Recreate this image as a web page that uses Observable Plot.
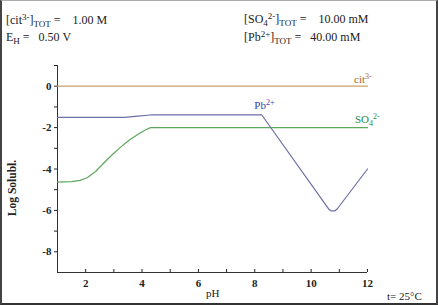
<!DOCTYPE html>
<html>
<head>
<meta charset="utf-8">
<script src="https://cdn.jsdelivr.net/npm/d3@7"></script>
<script src="https://cdn.jsdelivr.net/npm/@observablehq/plot@0.6"></script>
<style>
  body { margin: 0; background: #fff; }
  #wrap { position: relative; width: 438px; height: 305px; overflow: hidden; font-family: "Liberation Serif", "DejaVu Serif", serif; color: #222; }
  #wrap svg { position: absolute; left: 0; top: 0; }
  #wrap svg text { font-family: "Liberation Serif", serif; }
  .t { position: absolute; font-size: 12px; line-height: 13px; white-space: pre; }
  .t sub, .t sup { font-size: 9px; line-height: 0; }
  .t sub { vertical-align: -3px; }
  .t sup { vertical-align: 4px; }
  .s { font-size: 11px; }
  .s sub, .s sup { font-size: 8px; }
  #frame { position: absolute; left: 0; top: 0; width: 438px; height: 305px; box-sizing: border-box;
    border-left: 2px solid #444; border-top: 1px solid #aaa; border-right: 2px solid #444; border-bottom: 2px solid #333; pointer-events: none; }
</style>
</head>
<body>
<div id="wrap"></div>
<script>
// ---- data ----
const xTicks = [2, 3, 4, 5, 6, 7, 8, 9, 10, 11, 12];
const yTicks = [1, 0, -1, -2, -3, -4, -5, -6, -7, -8];

const citPH = [1, 12];
const citLog = [0, 0];

const pbPH  = [1, 3.4, 3.85, 4.3, 8.25, 10.62, 10.7, 10.85, 10.93, 12];
const pbLog = [-1.51, -1.51, -1.45, -1.39, -1.39, -5.93, -6.02, -6.02, -5.92, -4.0];

const so4PH  = [1, 1.5, 1.8, 2.05, 2.35, 2.6, 2.95, 3.25, 3.55, 3.86, 4.1, 4.3, 12];
const so4Log = [-4.63, -4.61, -4.55, -4.42, -4.12, -3.77, -3.3, -2.93, -2.6, -2.32, -2.13, -2.0, -2.0];

const toRows = (xs, ys) => xs.map((x, i) => ({x, y: ys[i]}));
const cit = toRows(citPH, citLog);
const pb = toRows(pbPH, pbLog);
const so4 = toRows(so4PH, so4Log);

const plot = Plot.plot({
  width: 438, height: 305,
  marginLeft: 57, marginRight: 71, marginTop: 65, marginBottom: 33,
  style: { fontFamily: "'Liberation Serif', serif", fontSize: "11px", background: "transparent", color: "#222" },
  x: { domain: [1, 12] },
  y: { domain: [-9, 1] },
  marks: [
    Plot.axisX({ ticks: xTicks, tickSize: -3, tickPadding: 10, tickFormat: d => d % 2 === 0 ? String(d) : "", label: null, fontWeight: "bold" }),
    Plot.axisY({ ticks: yTicks, tickSize: 3, tickPadding: 3, tickFormat: d => d % 2 === 0 ? String(d) : "", label: null, fontWeight: "bold" }),
    Plot.ruleX([1], { stroke: "#333" }),
    Plot.ruleY([-9], { stroke: "#333" }),
    Plot.line(cit, { x: "x", y: "y", stroke: "#c9a16c", strokeWidth: 1.2 }),
    Plot.line(so4, { x: "x", y: "y", stroke: "#5ea75e", strokeWidth: 1.2 }),
    Plot.line(pb, { x: "x", y: "y", stroke: "#6c6fa8", strokeWidth: 1.2 })
  ]
});

const wrap = document.getElementById("wrap");
wrap.appendChild(plot);
const sx = plot.scale("x"), sy = plot.scale("y");

function addText(html, left, top, extra, cls) {
  const d = document.createElement("div");
  d.className = "t" + (cls ? " " + cls : "");
  d.innerHTML = html;
  d.style.left = left + "px";
  d.style.top = top + "px";
  if (extra) Object.assign(d.style, extra);
  wrap.appendChild(d);
  return d;
}

// header
addText("[cit<sup>3-</sup>]<sub>TOT</sub> =    1.00 M", 6, 14);
addText("E<sub>H</sub> =   0.50 V", 6, 31);
addText("[SO<sub>4</sub><sup>2-</sup>]<sub>TOT</sub> =    10.00 mM", 244, 13);
addText("[Pb<sup>2+</sup>]<sub>TOT</sub> =   40.00 mM", 244, 31);

// series labels positioned with the scales
addText("cit<sup>3-</sup>", sx.apply(12) - 13, sy.apply(citLog[1]) - 13, { color: "#a5652c" }, "s");
addText("Pb<sup>2+</sup>", sx.apply(pbPH[4]) - 7, sy.apply(pbLog[4]) - 15, { color: "#3643a0" }, "s");
addText("SO<sub>4</sub><sup>2-</sup>", sx.apply(12) - 12, sy.apply(so4Log[12]) - 14, { color: "#2b8a3b" }, "s");

// axis titles
addText("pH", (sx.apply(1) + sx.apply(12)) / 2 - 6, 287, null, "s");
addText("t= 25°C", 387, 290, null, "s");
addText("Log Solubl.", 12, 188, { fontWeight: "bold", fontSize: "11.5px", transform: "translate(-50%, -50%) rotate(-90deg)", transformOrigin: "center" });

const f = document.createElement("div");
f.id = "frame";
wrap.appendChild(f);
</script>
</body>
</html>
